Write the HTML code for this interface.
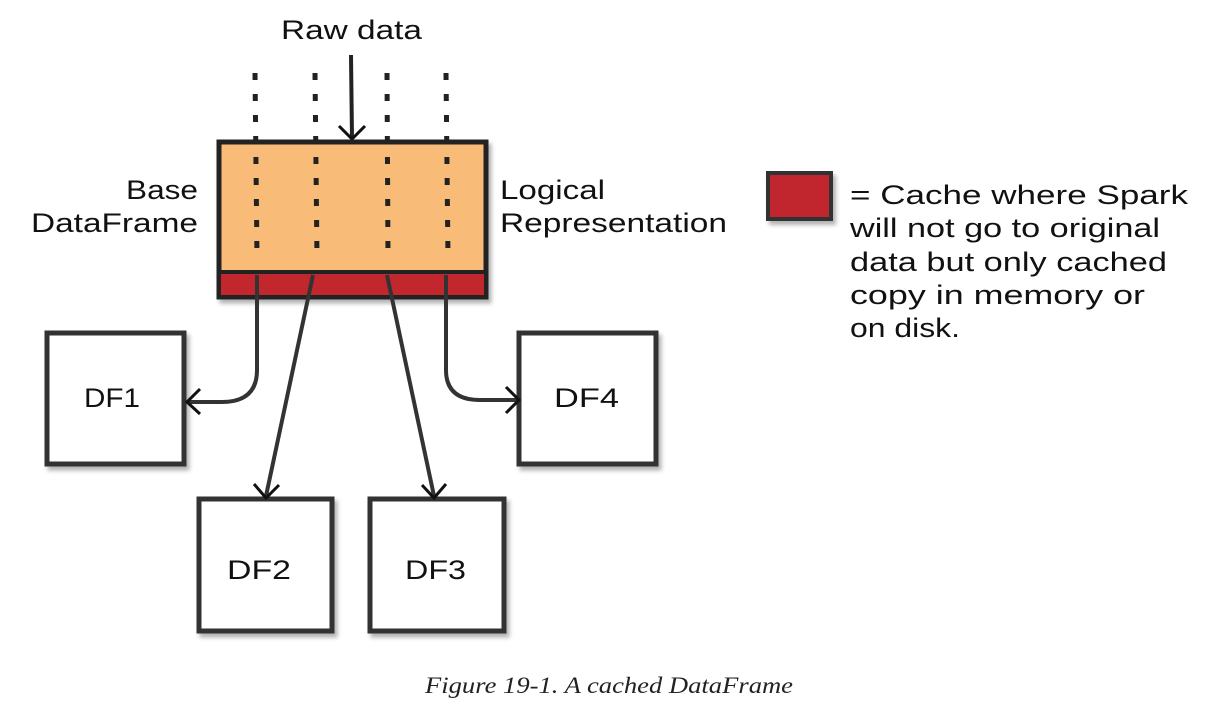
<!DOCTYPE html>
<html><head><meta charset="utf-8"><style>
html,body{margin:0;padding:0;background:#fff;}
svg{display:block;}
.t{font-family:"Liberation Sans",sans-serif;font-size:27px;fill:#111;}
</style></head><body>
<svg width="1214" height="717" viewBox="0 0 1214 717" xmlns="http://www.w3.org/2000/svg">
<defs>
<filter id="sh" x="-10%" y="-10%" width="130%" height="130%"><feDropShadow dx="3" dy="4" stdDeviation="2" flood-color="#000" flood-opacity="0.3"/></filter>
</defs>
<text class="t" x="281" y="39" textLength="141" lengthAdjust="spacingAndGlyphs">Raw data</text>
<line x1="351" y1="55" x2="352" y2="139" stroke="#222" stroke-width="4"/>
<polyline points="339,126 352,139 365,126" fill="none" stroke="#111" stroke-width="3"/>
<g filter="url(#sh)">
<rect x="219" y="142" width="267" height="155" fill="#f8bb78" stroke="#222" stroke-width="5"/>
</g>
<rect x="221" y="273" width="263" height="22" fill="#c1272d"/>
<line x1="219" y1="272" x2="486" y2="272" stroke="#222" stroke-width="4"/>
<g stroke="#222" stroke-width="5" stroke-dasharray="7,14" fill="none">
<line x1="255" y1="73" x2="257" y2="258"/>
<line x1="315" y1="73" x2="317" y2="258"/>
<line x1="387" y1="73" x2="388" y2="258"/>
<line x1="446" y1="73" x2="448" y2="258"/>
</g>
<text class="t" x="126" y="199" textLength="72" lengthAdjust="spacingAndGlyphs">Base</text>
<text class="t" x="31" y="232" textLength="167" lengthAdjust="spacingAndGlyphs">DataFrame</text>
<text class="t" x="500" y="199" textLength="105" lengthAdjust="spacingAndGlyphs">Logical</text>
<text class="t" x="500" y="232" textLength="227" lengthAdjust="spacingAndGlyphs">Representation</text>
<g filter="url(#sh)" fill="#fff" stroke="#333" stroke-width="5">
<rect x="47" y="333" width="137" height="131"/>
<rect x="519" y="333" width="137" height="131"/>
<rect x="199" y="499" width="133" height="132"/>
<rect x="370" y="499" width="134" height="132"/>
</g>
<g class="t">
<text x="84" y="407" textLength="56" lengthAdjust="spacingAndGlyphs">DF1</text>
<text x="554" y="407" textLength="65" lengthAdjust="spacingAndGlyphs">DF4</text>
<text x="227" y="579" textLength="64" lengthAdjust="spacingAndGlyphs">DF2</text>
<text x="405" y="579" textLength="61" lengthAdjust="spacingAndGlyphs">DF3</text>
</g>
<g fill="none" stroke="#333" stroke-width="4">
<path d="M257,275 L257,370 Q257,402 222,402 L188,402"/>
<path d="M313,275 L266,496"/>
<path d="M387,275 L434,496"/>
<path d="M446,275 L446,370 Q446,400 480,400 L518,400"/>
</g>
<g fill="none" stroke="#111" stroke-width="3">
<polyline points="200,389 187,402 200,414"/>
<polyline points="506,387 519,400 506,413"/>
<polyline points="254,484 266,498 279,485"/>
<polyline points="422,485 434,498 446,484"/>
</g>
<g filter="url(#sh)"><rect x="768" y="173" width="63" height="46" fill="#c1272d" stroke="#333" stroke-width="4"/></g>
<g class="t">
<text x="850" y="204" textLength="338" lengthAdjust="spacingAndGlyphs">= Cache where Spark</text>
<text x="850" y="237" textLength="310" lengthAdjust="spacingAndGlyphs">will not go to original</text>
<text x="850" y="271" textLength="317" lengthAdjust="spacingAndGlyphs">data but only cached</text>
<text x="850" y="304" textLength="295" lengthAdjust="spacingAndGlyphs">copy in memory or</text>
<text x="850" y="337" textLength="110" lengthAdjust="spacingAndGlyphs">on disk.</text>
</g>
<text x="425" y="693" textLength="368" lengthAdjust="spacingAndGlyphs" font-family="Liberation Serif,serif" font-style="italic" font-size="23" fill="#222">Figure 19-1. A cached DataFrame</text>
</svg>
</body></html>
